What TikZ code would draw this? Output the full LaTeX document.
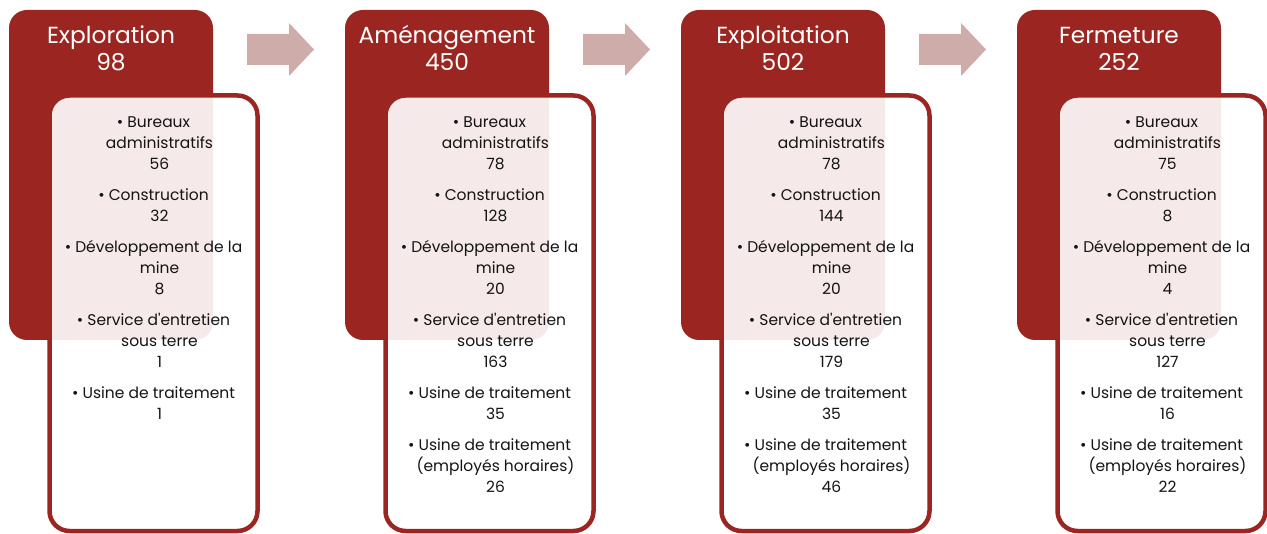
\documentclass[tikz,border=0pt]{standalone}
\usepackage{fontspec}
\setmainfont{Poppins}[Ligatures=TeXOff]
\definecolor{hred}{RGB}{155,38,33}
\definecolor{arr}{RGB}{205,172,170}
\definecolor{txt}{RGB}{20,20,20}
\tikzset{
  hdrbox/.style={draw=none,fill=hred,rounded corners=18pt,minimum width=204pt,minimum height=330pt,inner sep=0pt},
  bodybox/.style={draw=hred,line width=4.5pt,fill=white,fill opacity=0.9,rounded corners=20pt,minimum width=208pt,minimum height=435.5pt,inner sep=0pt},
  hdrtext/.style={text=white,align=center,font=\fontsize{23.3}{27}\selectfont,inner sep=0pt,anchor=north},
  bodytext/.style={text=txt,align=center,font=\fontsize{15.5}{21}\selectfont,inner sep=0pt,anchor=north},
  blockarrow/.style={fill=arr,draw=none}
}
\newcommand{\ci}{\hspace*{12pt}}
\newcommand{\stage}[5]{%
  \begin{scope}[shift={(#1,0)}]
    \node[hdrbox] (h#5) at (111,175) {};
    \node[hdrtext] (t#5) at (111,21) {\rule{0pt}{22pt}#2\\#3};
    \node[bodybox] (b#5) at (153.5,313.25) {};
    \node[bodytext] (l#5) at (153.5,109) {\rule{0pt}{18pt}#4};
  \end{scope}}
\begin{document}
\begin{tikzpicture}[x=1pt,y=-1pt]
\useasboundingbox (0,0) rectangle (1267,534);
\stage{0}{Exploration}{98}{• Bureaux\\\ci administratifs\\\ci 56\\[10pt]• Construction\\\ci 32\\[10pt]• Développement de la\\\ci mine\\\ci 8\\[10pt]• Service d'entretien\\\ci sous terre\\\ci 1\\[10pt]• Usine de traitement\\\ci 1}{1}
\stage{336}{Aménagement}{450}{• Bureaux\\\ci administratifs\\\ci 78\\[10pt]• Construction\\\ci 128\\[10pt]• Développement de la\\\ci mine\\\ci 20\\[10pt]• Service d'entretien\\\ci sous terre\\\ci 163\\[10pt]• Usine de traitement\\\ci 35\\[10pt]• Usine de traitement\\\ci (employés horaires)\\\ci 26}{2}
\stage{672}{Exploitation}{502}{• Bureaux\\\ci administratifs\\\ci 78\\[10pt]• Construction\\\ci 144\\[10pt]• Développement de la\\\ci mine\\\ci 20\\[10pt]• Service d'entretien\\\ci sous terre\\\ci 179\\[10pt]• Usine de traitement\\\ci 35\\[10pt]• Usine de traitement\\\ci (employés horaires)\\\ci 46}{3}
\stage{1008}{Fermeture}{252}{• Bureaux\\\ci administratifs\\\ci 75\\[10pt]• Construction\\\ci 8\\[10pt]• Développement de la\\\ci mine\\\ci 4\\[10pt]• Service d'entretien\\\ci sous terre\\\ci 127\\[10pt]• Usine de traitement\\\ci 16\\[10pt]• Usine de traitement\\\ci (employés horaires)\\\ci 22}{4}
\foreach \k/\n in {0/1,336/2,672/3}{
  \fill[blockarrow] (247+\k,34) -- (289+\k,34) -- (289+\k,23) -- (314+\k,49.5) -- (289+\k,76) -- (289+\k,65) -- (247+\k,65) -- cycle;
}
\end{tikzpicture}
\end{document}
